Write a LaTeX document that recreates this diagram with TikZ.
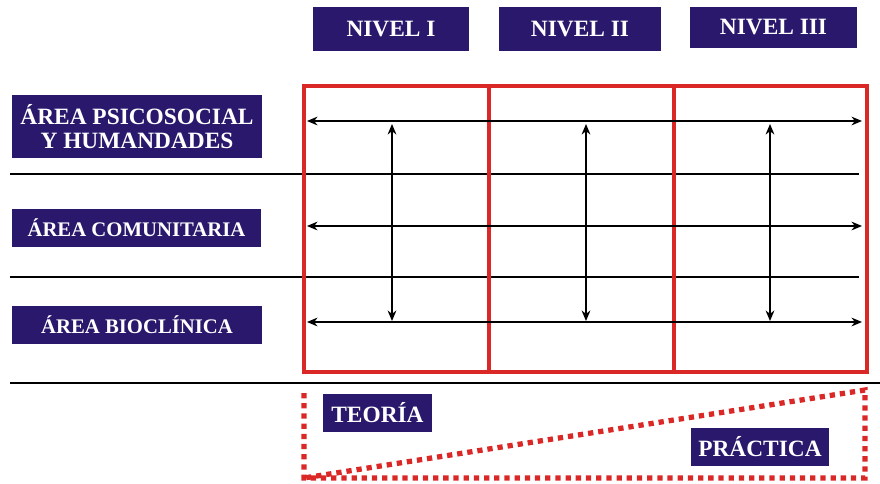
\documentclass[tikz,border=0pt]{standalone}
\usepackage{fontspec}
\setmainfont{Liberation Serif}
\usetikzlibrary{arrows.meta}

\definecolor{indigo}{RGB}{42,24,108}
\definecolor{rojo}{RGB}{218,40,38}

\tikzset{
  caja/.style={fill=indigo,text=white,font=\bfseries\fontsize{13.3}{14}\selectfont,
    align=center,inner sep=0pt},
  cajachica/.style={caja,font=\bfseries\fontsize{11.8}{14}\selectfont},
  flecha/.style={{Stealth[length=6pt,width=5pt]}-{Stealth[length=6pt,width=5pt]},line width=0.8pt},
  raya/.style={line width=0.8pt}
}

\begin{document}
\begin{tikzpicture}

\useasboundingbox (0,0) rectangle (17.6,-9.66);

% niveles
\node[caja,minimum width=3.12cm,minimum height=0.88cm] (nivel1) at (7.82,-0.58) {NIVEL I};
\node[caja,minimum width=3.24cm,minimum height=0.88cm] (nivel2) at (11.6,-0.58) {NIVEL II};
\node[caja,minimum width=3.34cm,minimum height=0.82cm] (nivel3) at (15.47,-0.55) {NIVEL III};

% areas
\node[caja,minimum width=5cm,minimum height=1.26cm] (psico) at (2.74,-2.53) {ÁREA PSICOSOCIAL\\Y HUMANDADES};
\node[cajachica,minimum width=4.98cm,minimum height=0.76cm] (comun) at (2.73,-4.56) {ÁREA COMUNITARIA};
\node[cajachica,minimum width=5cm,minimum height=0.76cm] (bioc) at (2.74,-6.5) {ÁREA BIOCLÍNICA};

% separadores
\draw[raya] (0.2,-3.48) -- (17.18,-3.48);
\draw[raya] (0.2,-5.54) -- (17.18,-5.54);
\draw[line width=1.4pt] (0.2,-7.66) -- (17.6,-7.66);

% cuadro de niveles
\draw[rojo,line width=1.8pt] (6.08,-1.72) rectangle (17.34,-7.44);
\draw[rojo,line width=1.8pt] (9.78,-1.72) -- (9.78,-7.44);
\draw[rojo,line width=1.8pt] (13.48,-1.72) -- (13.48,-7.44);

\foreach \y in {-2.42,-4.52,-6.44}
  \draw[flecha] (6.14,\y) -- (17.24,\y);
\foreach \x in {7.84,11.72,15.4}
  \draw[flecha] (\x,-2.48) -- (\x,-6.42);

% teoria / practica
\draw[rojo,line width=3pt,dash pattern=on 3pt off 2.8pt]
  (6.08,-7.86) -- (6.08,-9.56) -- (17.3,-9.56) -- (17.3,-7.8) -- (6.08,-9.56);
\node[caja,minimum width=2.18cm,minimum height=0.76cm] (teoria) at (7.55,-8.26) {TEORÍA};
\node[caja,minimum width=2.76cm,minimum height=0.76cm] (practica) at (15.2,-8.94) {PRÁCTICA};

\end{tikzpicture}
\end{document}
